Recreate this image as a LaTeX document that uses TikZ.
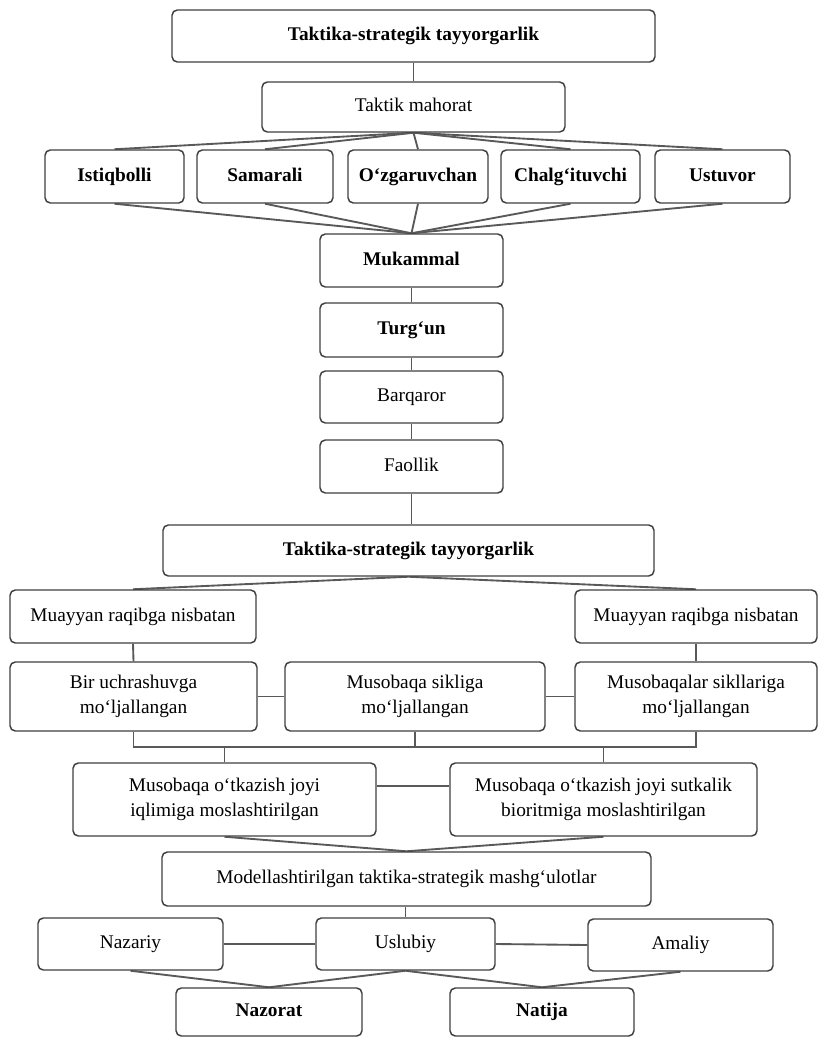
\documentclass[tikz,border=0pt]{standalone}
\usepackage{fontspec}
\setmainfont{Liberation Serif}
\usetikzlibrary{backgrounds}
\begin{document}
\begin{tikzpicture}[x=0.75pt,y=-0.75pt,
  bx/.style={draw=black!75,line width=1.1pt,rounded corners=4pt,fill=white,inner sep=0pt,align=center,font=\fontsize{14.5}{19}\selectfont},
  box/.style={bx,text height=10pt,text depth=3pt},
  two/.style={bx},
  bb/.style={box,font=\fontsize{14.5}{19}\selectfont\bfseries},
  sz/.style 2 args={minimum width=#1*0.75pt,minimum height=#2*0.75pt},
  link/.style={draw=black!65,line width=1.4pt}]

\useasboundingbox (0,0) rectangle (819,1038);

% top part
\node[bb,sz={483}{52}] (t1) at (413.5,36) {Taktika-strategik tayyorgarlik};
\node[box,sz={303}{50}] (tm) at (413.5,107) {Taktik mahorat};
\node[bb,sz={139}{53}] (r1) at (114.5,176.5) {Istiqbolli};
\node[bb,sz={136}{53}] (r2) at (265,176.5) {Samarali};
\node[bb,sz={140}{53}] (r3) at (418,176.5) {O‘zgaruvchan};
\node[bb,sz={139}{53}] (r4) at (570.5,176.5) {Chalg‘ituvchi};
\node[bb,sz={135}{53}] (r5) at (722.5,176.5) {Ustuvor};
\node[bb,sz={183}{53}] (muk) at (411.5,260.5) {Mukammal};
\node[bb,sz={183}{54}] (tur) at (411.5,330) {Turg‘un};
\node[box,sz={183}{52}] (bar) at (411.5,397) {Barqaror};
\node[box,sz={183}{53}] (fao) at (411.5,466.5) {Faollik};

% middle part
\node[bb,sz={491}{51}] (t2) at (408.5,550.5) {Taktika-strategik tayyorgarlik};
\node[box,sz={246}{53}] (ml) at (133,616.5) {Muayyan raqibga nisbatan};
\node[box,sz={242}{53}] (mr) at (696,616.5) {Muayyan raqibga nisbatan};
\node[two,sz={247}{69}] (bir) at (133.5,696.5) {Bir uchrashuvga\\mo‘ljallangan};
\node[two,sz={260}{69}] (sik) at (415,696.5) {Musobaqa sikliga\\mo‘ljallangan};
\node[two,sz={242}{69}] (mss) at (696,696.5) {Musobaqalar sikllariga\\mo‘ljallangan};
\node[two,sz={303}{73}] (iq) at (224.5,799.5) {Musobaqa o‘tkazish joyi\\iqlimiga moslashtirilgan};
\node[two,sz={307}{73}] (bio) at (603.5,799.5) {Musobaqa o‘tkazish joyi sutkalik\\bioritmiga moslashtirilgan};

% bottom part
\node[box,sz={489}{54}] (mod) at (406.5,879) {Modellashtirilgan taktika-strategik mashg‘ulotlar};
\node[box,sz={185}{52}] (naz) at (130.5,944) {Nazariy};
\node[box,sz={179}{52}] (usl) at (405.5,944) {Uslubiy};
\node[box,sz={185}{52}] (ama) at (680.5,945) {Amaliy};
\node[bb,sz={186}{48}] (nzr) at (269,1012) {Nazorat};
\node[bb,sz={184}{48}] (nat) at (542,1012) {Natija};

\coordinate (bus) at (0,747);
\coordinate (ibc) at (0,786);

\begin{scope}[on background layer]
  \fill[white] (0,0) rectangle (819,1038);
  \draw[link] (t1.south) -- (tm.north);
  \foreach \r in {r1,r2,r3,r4,r5}{
    \draw[link] (tm.south) -- (\r.north);
    \draw[link] (\r.south) -- (muk.north);
  }
  \draw[link] (muk.south) -- (tur.north);
  \draw[link] (tur.south) -- (bar.north);
  \draw[link] (bar.south) -- (fao.north);
  \draw[link] (fao.south) -- (fao.south |- t2.north);
  \draw[link] (t2.south) -- (ml.north);
  \draw[link] (t2.south) -- (mr.north);
  \draw[link] (ml.south) -- (bir.north);
  \draw[link] (mr.south) -- (mss.north);
  \draw[link] (bir.east) -- (sik.west);
  \draw[link] (sik.east) -- (mss.west);
  \draw[link] (bir.south) -- (bir.south |- bus) -| (mss.south);
  \draw[link] (sik.south) -- (sik.south |- bus);
  \draw[link] (iq.north) -- (iq.north |- bus);
  \draw[link] (bio.north) -- (bio.north |- bus);
  \draw[link] (iq.east |- ibc) -- (bio.west |- ibc);
  \draw[link] (iq.south) -- (mod.north);
  \draw[link] (bio.south) -- (mod.north);
  \draw[link] (mod.south -| usl.north) -- (usl.north);
  \draw[link] (naz.east) -- (usl.west);
  \draw[link] (usl.east) -- (ama.west);
  \draw[link] (naz.south) -- (nzr.north);
  \draw[link] (usl.south) -- (nzr.north);
  \draw[link] (usl.south) -- (nat.north);
  \draw[link] (ama.south) -- (nat.north);
\end{scope}
\end{tikzpicture}
\end{document}
